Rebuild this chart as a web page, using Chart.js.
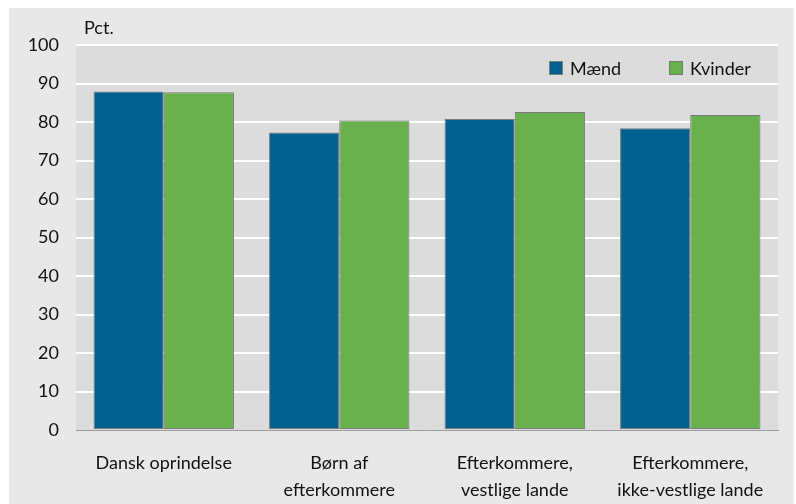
<!DOCTYPE html>
<html>
<head>
<meta charset="utf-8">
<script src="https://cdn.jsdelivr.net/npm/chart.js@4.4.1/dist/chart.umd.min.js"></script>
<style>
  body { margin: 0; background: #ffffff; }
  canvas { display: block; }
</style>
</head>
<body>
<canvas id="chart" width="796" height="504"></canvas>
<script>
// data
const categories = [
    ["Dansk oprindelse"],
    ["Børn af", "efterkommere"],
    ["Efterkommere,", "vestlige lande"],
    ["Efterkommere,", "ikke-vestlige lande"]
];
const maend = [87.9, 77.3, 80.8, 78.4];
const kvinder = [87.7, 80.4, 82.6, 81.8];
const unitLabel = "Pct.";

const FONT = "Lato, 'Liberation Sans', sans-serif";

// grey panel behind everything + darker grey plot area
const backgroundPlugin = {
    id: "panelBg",
    beforeDraw(chart) {
        const ctx = chart.ctx;
        const a = chart.chartArea;
        ctx.save();
        ctx.fillStyle = "#e8e8e8";
        ctx.fillRect(9, 8, 785, 496);
        ctx.fillStyle = "#dcdcdc";
        ctx.fillRect(a.left, a.top, a.right - a.left, a.bottom - a.top);
        ctx.restore();
    },
    afterDraw(chart) {
        const ctx = chart.ctx;
        ctx.save();
        ctx.fillStyle = "#111111";
        ctx.font = "18px " + FONT;
        ctx.textBaseline = "alphabetic";
        ctx.fillText(unitLabel, chart.chartArea.left + 8, 34);

        // legend inside the plot, top right
        const xs = [549, 669];
        chart.data.datasets.forEach((ds, i) => {
            ctx.fillStyle = ds.backgroundColor;
            ctx.fillRect(xs[i], 61, 14, 14);
            ctx.strokeStyle = ds.borderColor;
            ctx.lineWidth = 1;
            ctx.strokeRect(xs[i] + 0.5, 61.5, 13, 13);
            ctx.fillStyle = "#111111";
            ctx.textBaseline = "middle";
            ctx.fillText(ds.label, xs[i] + 21, 69);
        });
        ctx.restore();
    }
};

new Chart(document.getElementById("chart"), {
    type: "bar",
    data: {
        labels: categories,
        datasets: [{
            label: "Mænd",
            data: maend,
            backgroundColor: "#00618f",
            borderColor: "#7a7a7a",
            borderWidth: 1,
            borderSkipped: false
        }, {
            label: "Kvinder",
            data: kvinder,
            backgroundColor: "#69b04f",
            borderColor: "#7a7a7a",
            borderWidth: 1,
            borderSkipped: false
        }]
    },
    options: {
        responsive: false,
        animation: false,
        devicePixelRatio: 1,
        layout: { padding: { top: 45, right: 18, left: 0, bottom: 0 } },
        datasets: { bar: { categoryPercentage: 0.8, barPercentage: 1.0 } },
        plugins: {
            legend: { display: false },
            tooltip: { enabled: false }
        },
        scales: {
            x: {
                grid: { display: false, drawTicks: false },
                border: { display: true, color: "#9a9a9a", width: 1 },
                ticks: {
                    color: "#111111",
                    padding: 20,
                    maxRotation: 0,
                    autoSkip: false,
                    font: { family: FONT, size: 18, lineHeight: 1.5 }
                },
                afterFit(scale) { scale.height = 74; }
            },
            y: {
                min: 0,
                max: 100,
                ticks: {
                    stepSize: 10,
                    color: "#111111",
                    padding: 17,
                    font: { family: FONT, size: 18 }
                },
                grid: {
                    drawTicks: false,
                    lineWidth: 2,
                    color: ctx => ctx.tick && ctx.tick.value === 0 ? "rgba(0,0,0,0)" : "#ffffff"
                },
                border: { display: false },
                afterFit(scale) { scale.width = 76; }
            }
        }
    },
    plugins: [backgroundPlugin]
});
</script>
</body>
</html>
